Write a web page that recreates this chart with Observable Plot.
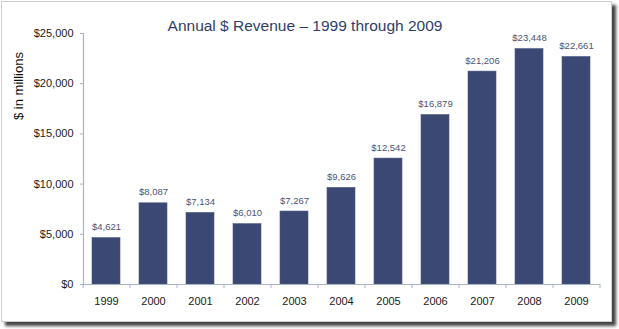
<!DOCTYPE html>
<html>
<head>
<meta charset="utf-8">
<script src="https://cdn.jsdelivr.net/npm/d3@7"></script>
<script src="https://cdn.jsdelivr.net/npm/@observablehq/plot@0.6"></script>
<style>
  html, body { margin: 0; padding: 0; background: #fff; }
  #wrap { position: relative; width: 619px; height: 329px; overflow: hidden; }
  #frame { position: absolute; left: 1px; top: 1px; width: 609px; height: 319px;
           border: 1px solid #cfcfcf; box-shadow: 4px 4px 3px #444; background: #fff; }
  #chart { position: absolute; left: 0; top: 0; }
  svg { font-family: "Liberation Sans", Arial, sans-serif; overflow: visible; }
</style>
</head>
<body>
<div id="wrap"><div id="frame"></div><div id="chart"></div></div>
<script>
const years = ["1999","2000","2001","2002","2003","2004","2005","2006","2007","2008","2009"];
const revenue = [4621, 8087, 7134, 6010, 7267, 9626, 12542, 16879, 21206, 23448, 22661];
const yTicks = [0, 5000, 10000, 15000, 20000, 25000];
const titleText = "Annual $ Revenue \u2013 1999 through 2009";
const yLabel = "$ in millions";

const data = years.map((y, i) => ({year: y, value: revenue[i]}));
const fmt = d3.format("$,");
const navy = "#3a4873";
const axisColor = "#aab2c8";
const step = (600 - 83) / years.length;

const chart = Plot.plot({
  width: 619,
  height: 329,
  marginLeft: 83,
  marginRight: 19,
  marginTop: 33,
  marginBottom: 45,
  style: {background: "transparent"},
  x: {domain: years, paddingInner: 0.4, paddingOuter: 0.2},
  y: {domain: [0, 25000]},
  marks: [
    Plot.barY(data, {x: "year", y: "value", fill: navy, stroke: "#4d5b86", strokeWidth: 0.6}),
    Plot.text(data, {x: "year", y: "value", text: d => fmt(d.value), dy: -11,
      fontSize: 9.5, fill: "#4a5378"}),
    Plot.axisY({ticks: yTicks, tickFormat: fmt, tickSize: 3, tickPadding: 7,
      stroke: axisColor, fontSize: 11, color: "#1a1a1a", label: null}),
    Plot.frame({anchor: "left", stroke: axisColor, strokeWidth: 1.2}),
    Plot.axisX({tickSize: 0, tickPadding: 13, fontSize: 11, color: "#1a1a1a", label: null}),
    Plot.ruleY([0], {stroke: axisColor, strokeWidth: 1.2}),
    Plot.ruleX(years, {x: d => d, y1: 0, y2: 0, insetBottom: -4, dx: -step / 2, stroke: axisColor}),
    Plot.ruleX([years[years.length - 1]], {x: d => d, y1: 0, y2: 0, insetBottom: -4, dx: step / 2, stroke: axisColor}),
    Plot.text([titleText], {frameAnchor: "top", dx: -37, dy: -14, fontSize: 15.5,
      fill: "#2f3d6b", text: d => d}),
    Plot.text([yLabel], {frameAnchor: "left", rotate: -90, dx: -65, dy: -39,
      fontSize: 13, fill: "#111", text: d => d})
  ]
});
document.getElementById("chart").appendChild(chart);
</script>
</body>
</html>
